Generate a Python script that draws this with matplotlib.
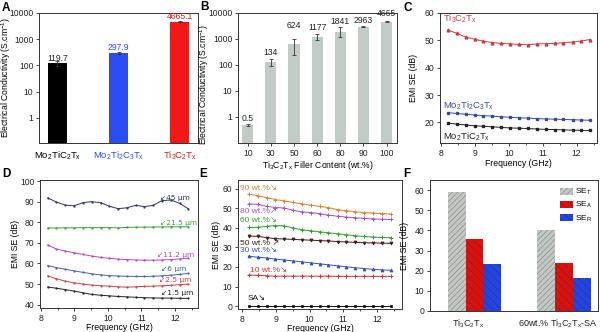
import matplotlib
matplotlib.use("Agg")
import matplotlib.pyplot as plt
import numpy as np

plt.rcParams['font.family'] = ['Liberation Sans', 'DejaVu Sans']
plt.rcParams['mathtext.default'] = 'regular'
plt.rcParams['hatch.linewidth'] = 0.5

# ---------------- data ----------------
a_names = [r"Mo$_2$TiC$_2$T$_x$", r"Mo$_2$Ti$_2$C$_3$T$_x$", r"Ti$_3$C$_2$T$_x$"]
a_values = [119.7, 297.9, 4665.1]
a_err = [22, 25, 300]
a_labels = ["119.7", "297.9", "4665.1"]

b_content = ["10", "30", "50", "60", "80", "90", "100"]
b_values = [0.5, 134, 624, 1177, 1841, 2963, 4665]
b_err_lo = [0.03, 40, 374, 267, 611, 100, 200]
b_err_hi = [0.03, 38, 396, 423, 1059, 100, 200]
b_labels = ["0.5", "134", "624", "1177", "1841", "2963", "4665"]

freq = [8.2, 8.46, 8.73, 8.99, 9.25, 9.51, 9.78, 10.04, 10.3, 10.56,
        10.83, 11.09, 11.35, 11.61, 11.88, 12.14, 12.4]

c_ti3c2 = [53.8, 52.6, 51.2, 50.4, 49.7, 49.2, 48.9, 48.7, 48.5, 48.4,
           48.7, 48.8, 48.9, 49.1, 49.4, 49.8, 50.3]
c_mo2ti2c3 = [23.6, 23.3, 23.0, 22.7, 22.5, 22.3, 22.1, 21.9, 21.7, 21.6,
              21.4, 21.3, 21.2, 21.1, 21.0, 20.9, 20.8]
c_mo2tic2 = [19.8, 19.4, 19.1, 18.8, 18.6, 18.4, 18.2, 18.0, 17.9, 17.8,
             17.6, 17.5, 17.4, 17.3, 17.2, 17.1, 17.1]

d_45 = [91.8, 89.8, 88.3, 88.0, 89.5, 90.0, 89.5, 87.8, 86.6, 87.0,
        88.2, 87.6, 88.2, 90.5, 90.8, 89.2, 86.5]
d_21_5 = [77.2, 77.2, 77.3, 77.3, 77.4, 77.4, 77.4, 77.4, 77.3, 77.5,
          77.6, 77.6, 77.7, 77.7, 77.8, 77.8, 77.8]
d_11_2 = [69.0, 67.0, 66.0, 65.2, 64.4, 63.6, 63.0, 62.5, 62.1, 61.9,
          61.7, 61.6, 61.6, 61.7, 61.9, 62.2, 62.6]
d_6 = [59.0, 58.0, 57.2, 56.4, 55.7, 55.0, 54.5, 54.1, 53.9, 53.8,
       53.7, 53.7, 53.8, 54.0, 54.3, 54.7, 55.2]
d_2_5 = [54.0, 52.6, 51.4, 50.6, 50.0, 49.5, 49.2, 49.0, 48.7, 48.5,
         48.7, 48.9, 49.0, 49.2, 49.4, 49.7, 50.0]
d_1_5 = [48.6, 48.0, 47.3, 46.6, 45.8, 45.0, 44.6, 44.3, 44.0, 43.8,
         43.6, 43.4, 43.3, 43.2, 43.2, 43.1, 43.1]

e_90 = [57.3, 56.5, 55.5, 54.5, 53.8, 53.0, 52.3, 51.6, 51.0, 50.4,
        49.3, 48.8, 48.3, 47.8, 47.6, 47.3, 47.1]
e_80 = [52.3, 52.0, 51.0, 50.4, 50.2, 49.0, 48.2, 47.8, 47.3, 46.5,
        46.0, 45.5, 45.2, 44.9, 44.6, 44.4, 44.3]
e_60 = [40.2, 40.3, 40.8, 41.2, 41.0, 40.0, 39.0, 38.5, 38.0, 37.5,
        37.0, 36.5, 36.0, 35.6, 35.3, 35.1, 35.0]
e_50 = [35.8, 35.7, 35.0, 34.5, 34.3, 34.1, 33.9, 33.7, 33.5, 33.3,
        33.0, 32.8, 32.6, 32.4, 32.3, 32.2, 32.1]
e_30 = [25.5, 25.0, 24.6, 24.0, 23.6, 23.1, 22.6, 22.1, 21.6, 21.1,
        20.6, 20.1, 19.6, 19.2, 18.8, 18.5, 18.3]
e_10 = [15.9, 15.7, 15.5, 15.3, 15.3, 15.3, 15.3, 15.3, 15.3, 15.3,
        15.2, 15.2, 15.2, 15.2, 15.2, 15.2, 15.2]
e_sa = [0.1] * 17

f_groups = [r"Ti$_3$C$_2$T$_x$", r"60wt.% Ti$_3$C$_2$T$_x$-SA"]
f_set = [58.8, 40.1]
f_sea = [35.6, 23.9]
f_ser = [23.3, 16.2]

# ---------------- layout ----------------
W, H = 600, 332
fig = plt.figure(figsize=(6, 3.32), dpi=100)

def ax_px(l, t, r, b):
    return fig.add_axes([l / W, 1 - b / H, (r - l) / W, (b - t) / H])

FS = 6.2
def style(ax):
    for s in ax.spines.values():
        s.set_linewidth(0.7)
        s.set_color('#333333')
    ax.tick_params(direction='out', length=2.5, width=0.6, labelsize=FS, pad=1.5,
                   colors='#222222')
    ax.tick_params(which='minor', direction='out', length=1.5, width=0.5)

def letter(x, y, s):
    fig.text(x / W, 1 - y / H, s, fontsize=8.5, fontweight='bold', ha='left', va='top')

# ---------- A ----------
axA = ax_px(39, 13, 198, 143)
style(axA)
xa = np.arange(len(a_values))
colsA = ['black', '#2a4cf0', '#f01818']
axA.bar(xa, a_values, width=0.3, color=colsA, bottom=0.0)
axA.errorbar(xa, a_values, yerr=a_err, fmt='none', ecolor='#333333', elinewidth=0.6,
             capsize=1.5, capthick=0.6)
axA.set_yscale('log')
axA.set_ylim(0.11, 10000)
axA.set_xlim(-0.3, 2.3)
axA.set_yticks([1, 10, 100, 1000, 10000])
axA.set_yticklabels(["1", "10", "100", "1000", "10000"])
axA.yaxis.set_minor_locator(matplotlib.ticker.NullLocator())
axA.set_xticks(xa)
axA.set_xticklabels(a_names, fontsize=6.8)
axA.tick_params(axis='x', length=0, pad=5)
for t, c in zip(axA.get_xticklabels(), ['black', '#2a4cf0', '#d02020']):
    t.set_color(c)
txtcolA = ['#222222', '#2a4cf0', '#d02020']
for i, (v, e, s) in enumerate(zip(a_values, a_err, a_labels)):
    axA.annotate(s, (xa[i], v), xytext=(0, 0.5), textcoords='offset points',
                 ha='center', va='bottom', fontsize=FS, color=txtcolA[i])
axA.set_ylabel(r"Electrical Conductivity (S.cm$^{-1}$)", fontsize=FS)
axA.yaxis.set_label_coords(-0.165, 0.5)
letter(2, 2, "A")

# ---------- B ----------
axB = ax_px(238, 13, 397, 143)
style(axB)
xb = np.arange(len(b_values))
axB.bar(xb, b_values, width=0.48, color='#c3cbc7')
axB.errorbar(xb, b_values, yerr=[b_err_lo, b_err_hi], fmt='none', ecolor='#333333',
             elinewidth=0.6, capsize=1.2, capthick=0.6)
axB.set_yscale('log')
axB.set_ylim(0.1, 10000)
axB.set_xlim(-0.42, 6.45)
axB.set_yticks([1, 10, 100, 1000, 10000])
axB.set_yticklabels(["1", "10", "100", "1000", "10000"])
axB.yaxis.set_minor_locator(matplotlib.ticker.NullLocator())
axB.set_xticks(xb)
axB.set_xticklabels(b_content)
b_off = [0.5, 1.5, 6, 1, 0.5, 1, 2]
for i, (v, hi, s) in enumerate(zip(b_values, b_err_hi, b_labels)):
    axB.annotate(s, (xb[i], v + hi), xytext=(0, b_off[i]), textcoords='offset points',
                 ha='center', va='bottom', fontsize=FS, color='#222222')
axB.set_ylabel(r"Electrical Conductivity (S.cm$^{-1}$)", fontsize=FS)
axB.yaxis.set_label_coords(-0.17, 0.45)
axB.set_xlabel(r"Ti$_3$C$_2$T$_x$ Filler Content (wt.%)", fontsize=FS, labelpad=1)
letter(200, 1, "B")

# ---------- C ----------
axC = ax_px(440, 13, 597, 143)
style(axC)
axC.plot(freq, c_ti3c2, color='#c83c3c', marker='^', ms=2, lw=0.7)
axC.plot(freq, c_mo2ti2c3, color='#3848a8', marker='s', ms=1.8, lw=0.7)
axC.plot(freq, c_mo2tic2, color='#222222', marker='s', ms=1.8, lw=0.7)
axC.set_xlim(7.97, 12.6)
axC.set_ylim(12.5, 60)
axC.set_xticks([8, 9, 10, 11, 12])
axC.set_yticks([20, 30, 40, 50, 60])
axC.xaxis.set_minor_locator(matplotlib.ticker.MultipleLocator(0.5))
axC.text(8.05, 58, r"Ti$_3$C$_2$T$_x$", color='#c83c3c', fontsize=6.8, va='center')
axC.text(8.05, 26, r"Mo$_2$Ti$_2$C$_3$T$_x$", color='#3848a8', fontsize=6.8, va='center')
axC.text(8.05, 14.9, r"Mo$_2$TiC$_2$T$_x$", color='#222222', fontsize=6.8, va='center')
axC.set_ylabel("EMI SE (dB)", fontsize=FS)
axC.yaxis.set_label_coords(-0.137, 0.5)
axC.set_xlabel("Frequency (GHz)", fontsize=FS, labelpad=1)
letter(404, 2, "C")

# ---------- D ----------
axD = ax_px(40, 180, 198, 308)
style(axD)
d_series = [d_45, d_21_5, d_11_2, d_6, d_2_5, d_1_5]
d_cols = ['#2e2e70', '#3ca03c', '#b048c0', '#4462b4', '#d04040', '#222222']
d_names = ["45 μm", "21.5 μm", "11.2 μm", "6 μm", "2.5 μm", "1.5 μm"]
d_lab_xy = [(11.55, 91.6), (11.55, 79.7), (11.48, 64.0), (11.58, 57.3), (11.52, 52.0), (11.58, 45.9)]
for ys, c in zip(d_series, d_cols):
    axD.plot(freq, ys, color=c, marker='.', ms=1.2, lw=0.7)
for (x, y), s, c in zip(d_lab_xy, d_names, d_cols):
    axD.text(x, y, "↙" + s, color=c, fontsize=5.4, va='center', ha='left',
             family=['DejaVu Sans'])
axD.set_xlim(7.97, 12.69)
axD.set_ylim(38.4, 100.5)
axD.set_xticks([8, 9, 10, 11, 12])
axD.set_yticks([40, 50, 60, 70, 80, 90, 100])
axD.xaxis.set_minor_locator(matplotlib.ticker.MultipleLocator(0.5))
axD.set_ylabel("EMI SE (dB)", fontsize=FS)
axD.yaxis.set_label_coords(-0.127, 0.5)
axD.set_xlabel("Frequency (GHz)", fontsize=FS, labelpad=0.5)
letter(2, 168, "D")

# ---------- E ----------
axE = ax_px(238, 180, 402, 309)
style(axE)
e_series = [e_90, e_80, e_60, e_50, e_30, e_10, e_sa]
e_cols = ['#e08030', '#a450d0', '#30a030', '#4a1818', '#3450c0', '#d83030', '#111111']
e_marks = ['+', '+', '+', 'v', '^', '+', 's']
e_ms = [2.2, 2.2, 2.2, 2.0, 2.0, 2.2, 1.3]
e_names = ["90 wt.%↘", "80 wt.%↗", "60 wt.%↘", "50 wt.% ↗", "30 wt.%↘", "10 wt.%↘", "SA↘"]
e_lab_xy = [(7.94, 60.4), (7.94, 48.4), (7.94, 43.8), (7.94, 32.1), (7.94, 28.6), (8.24, 18.4), (8.18, 3.7)]
for ys, c, m, ms in zip(e_series, e_cols, e_marks, e_ms):
    axE.plot(freq, ys, color=c, marker=m, ms=ms, mew=0.7, lw=0.7)
for (x, y), s, c in zip(e_lab_xy, e_names, e_cols):
    axE.text(x, y, s, color=c, fontsize=6.0, va='center', ha='left',
             family=['Liberation Sans', 'DejaVu Sans'])
axE.set_xlim(7.88, 12.74)
axE.set_ylim(-1.5, 64.5)
axE.set_xticks([8, 9, 10, 11, 12])
axE.set_yticks([0, 10, 20, 30, 40, 50, 60])
axE.xaxis.set_minor_locator(matplotlib.ticker.MultipleLocator(0.5))
axE.set_ylabel("EMI SE (dB)", fontsize=FS)
axE.yaxis.set_label_coords(-0.104, 0.5)
axE.set_xlabel("Frequency (GHz)", fontsize=FS, labelpad=0.5)
letter(199, 168, "E")

# ---------- F ----------
axF = ax_px(430, 180, 598, 311)
style(axF)
g = np.array([1.0, 6.0])
axF.bar(g - 1, f_set, width=1.0, color='#c4c8c4', edgecolor='#8a8e8a', hatch='//////',
        linewidth=0, label=r"SE$_T$")
axF.bar(g, f_sea, width=1.0, color='#d41414', edgecolor='#b01010', hatch='\\\\\\\\',
        linewidth=0, label=r"SE$_A$")
axF.bar(g + 1, f_ser, width=1.0, color='#2444dc', edgecolor='#1a34b8', hatch='\\\\\\\\',
        linewidth=0, label=r"SE$_R$")
axF.set_xlim(-1.48, 7.89)
axF.set_ylim(0, 65)
axF.set_yticks([0, 10, 20, 30, 40, 50, 60])
axF.set_xticks(g - 0.35)
axF.set_xticklabels(f_groups, fontsize=6.5)
axF.tick_params(axis='x', length=0, pad=5)
axF.legend(loc='upper right', frameon=False, fontsize=6, handlelength=1.6,
           handleheight=0.9, handletextpad=0.2, labelspacing=0.35,
           bbox_to_anchor=(1.0, 0.99), borderaxespad=0.3)
axF.set_ylabel("EMI SE (dB)", fontsize=FS)
axF.yaxis.set_label_coords(-0.125, 0.5)
letter(403, 168, "F")

fig.savefig("out.png", dpi=100)
